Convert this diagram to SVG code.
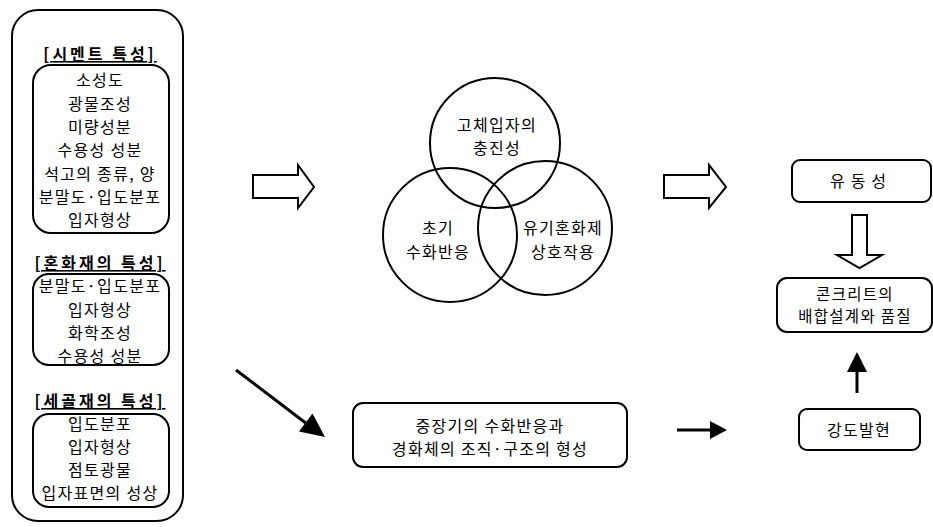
<svg xmlns="http://www.w3.org/2000/svg" width="933" height="527" viewBox="0 0 933 527">
<defs>
<style>
.t{font-family:"Noto Sans CJK KR","Liberation Sans",sans-serif;font-size:16px;fill:#000;text-anchor:middle;letter-spacing:1.3px}
.h{text-decoration:underline;font-weight:bold;letter-spacing:3px}
.b{fill:#fff;stroke:#000;stroke-width:2}
.c{fill:none;stroke:#000;stroke-width:2}
.ln{stroke:#000;stroke-width:3;fill:none}
.hd{fill:#000;stroke:none}
</style>
</defs>
<rect width="933" height="527" fill="#fff"/>
<g id="left-panel">
<rect class="b" x="12" y="10" width="171" height="511" rx="26"/>
<g id="cement">
<text class="t h" x="100" y="60">[시멘트 특성]</text>
<rect class="b" x="33" y="65" width="136" height="168" rx="18"/>
<text class="t" x="100" y="86">소성도</text>
<text class="t" x="100" y="110">광물조성</text>
<text class="t" x="100" y="133">미량성분</text>
<text class="t" x="100" y="156">수용성 성분</text>
<text class="t" x="100" y="180">석고의 종류, 양</text>
<text class="t" x="100" y="203">분말도·입도분포</text>
<text class="t" x="100" y="226">입자형상</text>
</g>
<g id="admixture">
<text class="t h" x="100" y="269">[혼화재의 특성]</text>
<rect class="b" x="33" y="274" width="136" height="91" rx="16"/>
<text class="t" x="100" y="292">분말도·입도분포</text>
<text class="t" x="100" y="316">입자형상</text>
<text class="t" x="100" y="339">화학조성</text>
<text class="t" x="100" y="362">수용성 성분</text>
</g>
<g id="fine-aggregate">
<text class="t h" x="100" y="407">[세골재의 특성]</text>
<rect class="b" x="33" y="414" width="136" height="93" rx="16"/>
<text class="t" x="100" y="430">입도분포</text>
<text class="t" x="100" y="453">입자형상</text>
<text class="t" x="100" y="476">점토광물</text>
<text class="t" x="100" y="499">입자표면의 성상</text>
</g>
</g>
<g id="venn">
<circle class="c" cx="495" cy="143" r="65"/>
<circle class="c" cx="450" cy="235" r="67"/>
<circle class="c" cx="545" cy="228" r="67"/>
<text class="t" x="497" y="131">고체입자의</text>
<text class="t" x="497" y="154">충진성</text>
<text class="t" x="438" y="234">초기</text>
<text class="t" x="438" y="258">수화반응</text>
<text class="t" x="563" y="234">유기혼화제</text>
<text class="t" x="563" y="258">상호작용</text>
</g>
<g id="n-flow">
<rect class="b" x="792" y="160" width="139" height="42" rx="8"/>
<text class="t" x="861" y="187" style="letter-spacing:6px">유동성</text>
</g>
<g id="n-quality">
<rect class="b" x="777" y="278" width="155" height="54" rx="10"/>
<text class="t" x="855" y="300" style="font-size:15.5px">콘크리트의</text>
<text class="t" x="855" y="322" style="font-size:15.5px">배합설계와 품질</text>
</g>
<g id="n-strength">
<rect class="b" x="799" y="409" width="121" height="41" rx="8"/>
<text class="t" x="859" y="436">강도발현</text>
</g>
<g id="n-hydration">
<rect class="b" x="353" y="403" width="274" height="64" rx="10"/>
<text class="t" x="490" y="432">중장기의 수화반응과</text>
<text class="t" x="490" y="455">경화체의 조직·구조의 형성</text>
</g>
<g id="connectors">
<path class="c" d="M253,175 H298 V165 L314,187 L298,208 V198 H253 Z"/>
<path class="c" d="M664,175 H709 V165 L726,187 L709,208 V198 H664 Z"/>
<path class="c" d="M852,215 H867 V255 H882 L859.5,268 L837,255 H852 Z"/>
<line class="ln" x1="236" y1="370" x2="307" y2="424"/>
<polygon class="hd" points="325,437 299,431.5 312.5,413.5"/>
<line class="ln" x1="677" y1="430" x2="712" y2="430"/>
<polygon class="hd" points="727,430 710,421 710,439"/>
<line class="ln" x1="857" y1="393" x2="857" y2="370"/>
<polygon class="hd" points="857,352 847,372 867,372"/>
</g>
</svg>
